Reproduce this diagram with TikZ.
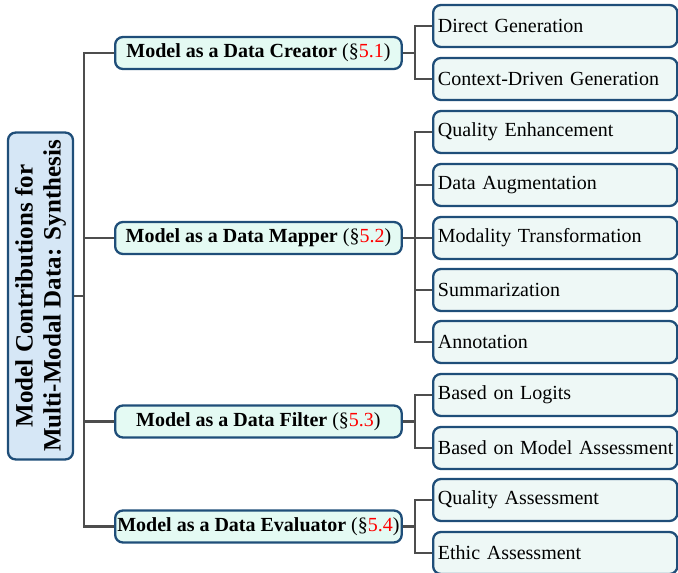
\documentclass[tikz,border=0pt]{standalone}
\usepackage{fontspec}
\setmainfont{Liberation Serif}
\usepackage{tikz}
\usetikzlibrary{calc}
\definecolor{boxborder}{HTML}{1F4E79}
\definecolor{rootfill}{HTML}{D6E7F6}
\definecolor{catfill}{HTML}{E4FAF3}
\definecolor{leaffill}{HTML}{EEF8F6}
\definecolor{linkgray}{HTML}{4D4D4D}
\newcommand{\leaffont}{\fontsize{10.4}{13}\selectfont\hyphenpenalty=10000\relax}

\begin{document}
\begin{tikzpicture}[x=0.52pt, y=-0.52pt,
  rootbox/.style={draw=boxborder, fill=rootfill, line width=1.2pt, rounded corners=4pt, rotate=90,
    minimum width=170pt, minimum height=33.8pt, align=center, font=\fontsize{13}{14.5}\selectfont\bfseries, inner sep=2pt},
  catbox/.style={draw=boxborder, fill=catfill, line width=1.2pt, rounded corners=4pt, anchor=west,
    minimum width=149pt, minimum height=16.6pt, font=\fontsize{10.4}{12}\selectfont\bfseries, inner xsep=1pt, inner ysep=2pt},
  leafbox/.style={draw=boxborder, fill=leaffill, line width=1.2pt, rounded corners=4pt, anchor=west,
    minimum height=21.8pt, text width=122pt, align=left, inner xsep=2.5pt, font=\leaffont},
  link/.style={draw=linkgray, line width=1.4pt}]
\useasboundingbox (0,0) rectangle (678,573);
\coordinate (trunk) at (84,0);
\coordinate (fork) at (415,0);
\node[rootbox] (root) at (40.5,296) {Model Contributions for\\Multi-Modal Data: Synthesis};
\node[catbox] (creator) at (114,53) {Model as a Data Creator {\mdseries(\S\textcolor{red}{5.1})}};
\node[catbox] (mapper) at (114,238) {Model as a Data Mapper {\mdseries(\S\textcolor{red}{5.2})}};
\node[catbox] (filter) at (114,421.5) {Model as a Data Filter {\mdseries(\S\textcolor{red}{5.3})}};
\node[catbox] (evaluator) at (114,526.5) {Model as a Data Evaluator {\mdseries(\S\textcolor{red}{5.4})}};
\node[leafbox] (direct) at (432,26) {Direct Generation};
\node[leafbox] (context) at (432,79) {Context-Driven Generation};
\node[leafbox] (quality) at (432,132) {Quality Enhancement};
\node[leafbox] (augment) at (432,185) {Data Augmentation};
\node[leafbox] (modality) at (432,238) {Modality Transformation};
\node[leafbox] (summary) at (432,290) {Summarization};
\node[leafbox] (annotation) at (432,342) {Annotation};
\node[leafbox] (logits) at (432,395) {Based on Logits};
\node[leafbox] (assess) at (432,448) {Based~on~Model~Assessment};
\node[leafbox] (qualassess) at (432,500) {Quality Assessment};
\node[leafbox] (ethic) at (432,553) {Ethic Assessment};
\draw[link] (root.south) -- (trunk |- root.south);
\draw[link] (creator.west) -| (trunk |- evaluator.west) -- (evaluator.west);
\foreach \c in {mapper, filter} \draw[link] (trunk |- \c.west) -- (\c.west);
\foreach \c in {creator, mapper, filter, evaluator} \draw[link] (\c.east) -- (fork |- \c.east);
\draw[link] (direct.west) -| (fork |- context.west) -- (context.west);
\draw[link] (quality.west) -| (fork |- annotation.west) -- (annotation.west);
\foreach \l in {augment, modality, summary} \draw[link] (fork |- \l.west) -- (\l.west);
\draw[link] (logits.west) -| (fork |- assess.west) -- (assess.west);
\draw[link] (qualassess.west) -| (fork |- ethic.west) -- (ethic.west);
\end{tikzpicture}
\end{document}
